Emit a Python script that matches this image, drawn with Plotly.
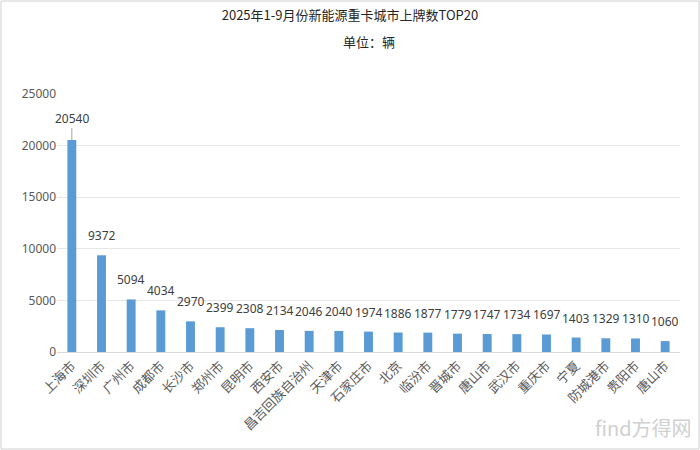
import plotly.graph_objects as go

cities = ["上海市", "深圳市", "广州市", "成都市", "长沙市", "郑州市", "昆明市", "西安市",
          "昌吉回族自治州", "天津市", "石家庄市", "北京", "临汾市", "晋城市", "唐山市",
          "武汉市", "重庆市", "宁夏", "防城港市", "贵阳市", "唐山市"]
values = [20540, 9372, 5094, 4034, 2970, 2399, 2308, 2134, 2046, 2040, 1974, 1886,
          1877, 1779, 1747, 1734, 1697, 1403, 1329, 1310, 1060]
y_ticks = [0, 5000, 10000, 15000, 20000, 25000]

W, H = 700, 450
ML, MR, MT, MB = 57, 20, 94, 98

pos = list(range(len(cities)))
label_font = dict(family="Noto Sans, Noto Sans CJK SC", size=12, color="#404040")

fig = go.Figure()
fig.add_trace(go.Bar(
    x=pos, y=values, width=0.3,
    marker=dict(color="#5B9BD5", line=dict(width=0)),
    hoverinfo="skip",
))

for i, (p, v) in enumerate(zip(pos, values)):
    if i == 0:
        fig.add_annotation(x=p, y=v, text=str(v), showarrow=True,
                           arrowhead=0, arrowwidth=1, arrowcolor="#A6A6A6", ax=0, ay=-22,
                           standoff=0, font=label_font)
    else:
        fig.add_annotation(x=p, y=v, text=str(v), showarrow=False, yanchor="bottom",
                           yshift=9, font=label_font)

fig.update_layout(
    width=W, height=H,
    margin=dict(l=ML, r=MR, t=MT, b=MB, autoexpand=False),
    paper_bgcolor="white", plot_bgcolor="white",
    showlegend=False,
    title=dict(text="2025年1-9月份新能源重卡城市上牌数TOP20",
               x=0.5, xanchor="center", y=0.975, yanchor="top",
               font=dict(family="Noto Sans CJK SC", size=13, color="#262626")),
    xaxis=dict(range=[-0.5, len(cities) - 0.5], tickmode="array", tickvals=pos,
               ticktext=cities, tickangle=-45, showgrid=False, zeroline=False,
               showline=True, linecolor="#D9D9D9", linewidth=1, ticks="",
               automargin=False,
               tickfont=dict(family="Noto Sans CJK SC", size=13, color="#595959")),
    yaxis=dict(range=[0, 25000], tickmode="array", tickvals=y_ticks,
               ticktext=[str(t) for t in y_ticks], showgrid=True, gridcolor="#E6E6E6",
               gridwidth=1, zeroline=False, showline=False, ticks="", automargin=False,
               tickfont=dict(family="Noto Sans, Noto Sans CJK SC", size=12, color="#595959")),
    font=dict(family="Noto Sans CJK SC"),
)

pw = W - ML - MR
ph = H - MT - MB

fig.add_annotation(xref="paper", yref="paper", x=0.5, y=(ph + MT - 41) / ph,
                   xanchor="center", yanchor="middle", showarrow=False, text="单位：辆",
                   font=dict(family="Noto Sans CJK SC", size=13, color="#262626"))

fig.add_shape(type="rect", xref="paper", yref="paper",
              x0=(-ML + 1) / pw, x1=(pw + MR - 1) / pw,
              y0=(-MB + 1) / ph, y1=(ph + MT - 1) / ph,
              line=dict(color="#D0D0D0", width=1), fillcolor="rgba(0,0,0,0)", layer="below")

fig.add_annotation(xref="paper", yref="paper", x=(pw + MR - 6) / pw, y=(-MB + 6) / ph,
                   xanchor="right", yanchor="bottom", showarrow=False,
                   text="find方得网",
                   font=dict(family="Noto Sans CJK SC", size=20, color="#D0D0D0"))

fig.write_html("out.html", config={"displayModeBar": False},
               post_script="document.body.style.margin='0';")
